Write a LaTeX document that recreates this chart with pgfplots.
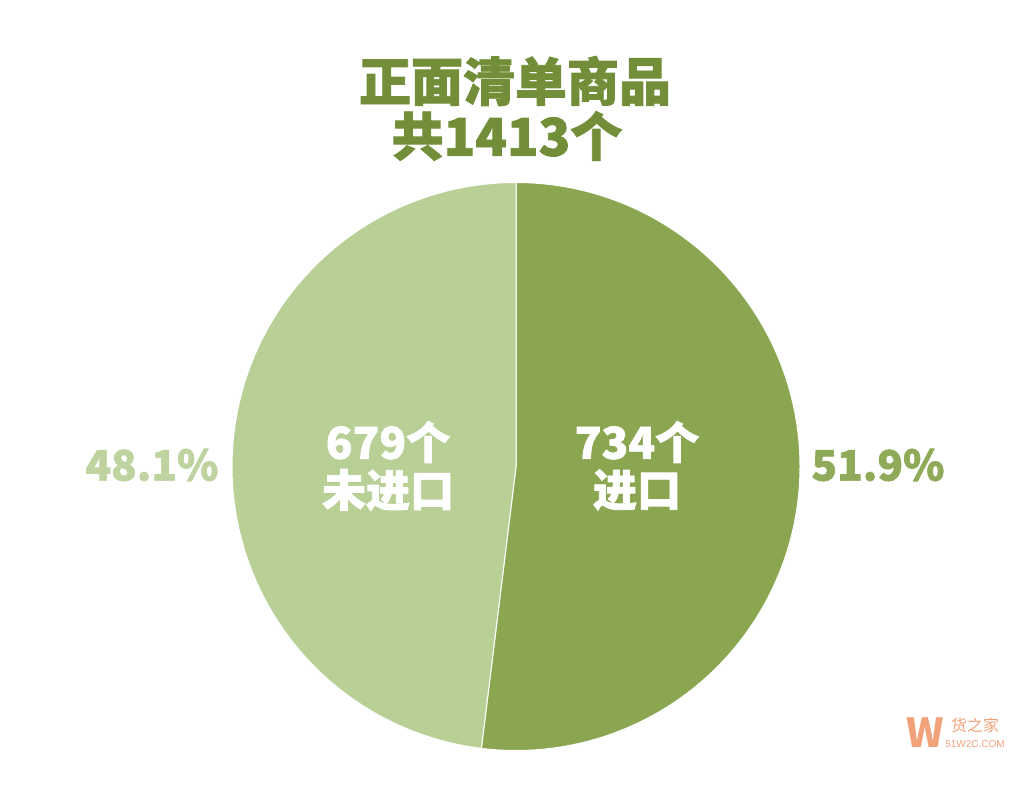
\documentclass[border=0pt]{standalone}
\usepackage{pgfplots}
\pgfplotsset{compat=1.18}
\usepackage{fontspec}
\setmainfont{Noto Sans CJK SC}
\newfontfamily\cjkblack{Noto Sans CJK SC Black}[FakeBold=1.6]
\newfontfamily\lat{Liberation Sans}
\definecolor{darkg}{HTML}{8BA650}
\definecolor{lightg}{HTML}{B8CF96}
\definecolor{titleg}{HTML}{728E38}
\definecolor{pctd}{HTML}{8FAA58}
\definecolor{pctl}{HTML}{BFD3A0}
\definecolor{wmor}{HTML}{F2A27A}
% data
\def\valA{734}% imported
\def\valB{679}% not imported
\begin{document}
\begin{tikzpicture}
\pgfmathsetmacro{\tot}{\valA+\valB}
\pgfmathsetmacro{\angA}{\valA/\tot*360}
\pgfmathsetmacro{\endA}{90-\angA}
\begin{axis}[x=0.5pt,y=0.5pt,xmin=0,xmax=1031,ymin=0,ymax=788,
  hide axis, clip=false, scale only axis]
\coordinate (ll) at (axis cs:0,0);
\coordinate (ur) at (axis cs:1031,788);
\addplot[fill=darkg, draw=white, line width=0.5pt, domain=90:\endA, samples=240, variable=\t]
  ({516+284*cos(t)},{321.5+284*sin(t)}) -- (axis cs:516,321.5) -- cycle;
\addplot[fill=lightg, draw=white, line width=0.5pt, domain=\endA:-270, samples=240, variable=\t]
  ({516+284*cos(t)},{321.5+284*sin(t)}) -- (axis cs:516,321.5) -- cycle;
\node[text=titleg, font=\cjkblack\fontsize{26}{30}\selectfont, align=center] at (axis cs:515,707) {正面清单商品};
\node[text=titleg, font=\cjkblack\fontsize{26}{30}\selectfont, align=center] at (axis cs:507,652) {共1413个};
\node[text=white, font=\cjkblack\fontsize{22}{26}\selectfont] at (axis cs:388,346) {679个};
\node[text=white, font=\cjkblack\fontsize{22}{26}\selectfont] at (axis cs:388,298) {未进口};
\node[text=white, font=\cjkblack\fontsize{22}{26}\selectfont] at (axis cs:637,346) {734个};
\node[text=white, font=\cjkblack\fontsize{22}{26}\selectfont] at (axis cs:637,298) {进口};
\node[text=pctl, font=\cjkblack\fontsize{21}{24}\selectfont] at (axis cs:152,323) {48.1\%};
\node[text=pctd, font=\cjkblack\fontsize{21}{24}\selectfont] at (axis cs:878,323) {51.9\%};
\node[text=wmor, font=\fontsize{20}{22}\selectfont\bfseries] at (axis cs:925,55) {W};
\node[text=wmor, font=\fontsize{8}{9}\selectfont] at (axis cs:975,63) {货之家};
\node[text=wmor, font=\lat\fontsize{5}{6}\selectfont] at (axis cs:975,44) {51W2C.COM};
\end{axis}
\path (ll) rectangle (ur);
\end{tikzpicture}
\end{document}
